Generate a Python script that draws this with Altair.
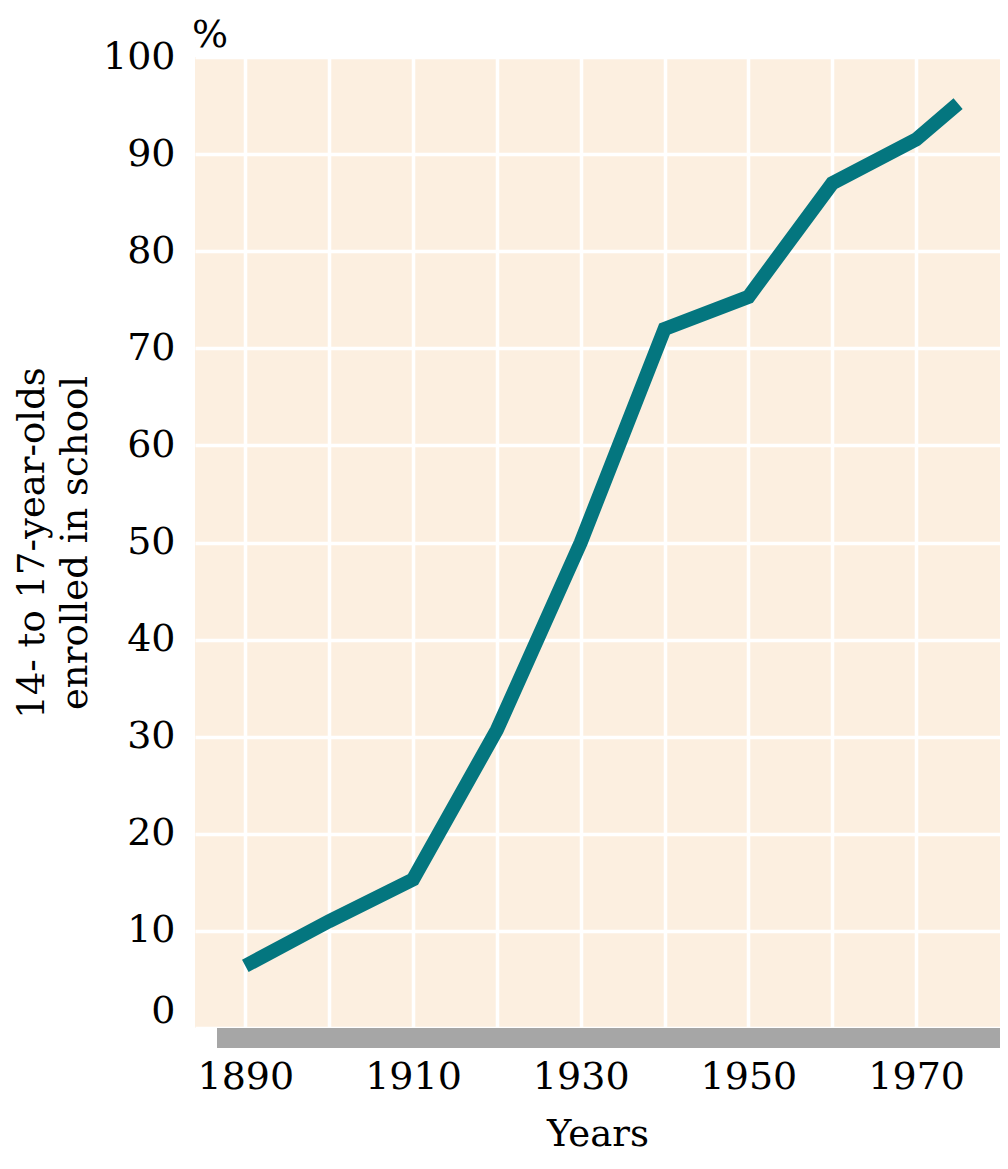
import altair as alt
import pandas as pd

years = [1890, 1900, 1910, 1920, 1930, 1940, 1950, 1960, 1970, 1975]
enrolled = [6.4, 11.0, 15.3, 30.7, 50.0, 72.0, 75.3, 87.0, 91.5, 95.2]
x_ticks = [1890, 1900, 1910, 1920, 1930, 1940, 1950, 1960, 1970]
y_ticks = [0, 10, 20, 30, 40, 50, 60, 70, 80, 90, 100]

df = pd.DataFrame({"year": years, "pct": enrolled})

W, H = 805, 971
FONT = "DejaVu Serif"
TEAL = "#04767F"
CREAM = "#FCEFE0"
GRAY = "#A6A6A6"

x_scale = alt.Scale(domain=[1884, 1980], nice=False, zero=False)
y_scale = alt.Scale(domain=[0, 100], nice=False)

x_axis = alt.Axis(
    values=x_ticks, format="d",
    labelExpr="datum.value % 20 == 10 ? datum.label : ''",
    title="Years", titleFont=FONT, titleFontSize=37, titleFontWeight="normal",
    titleColor="black", titlePadding=20,
    labelFont=FONT, labelFontSize=38, labelColor="black", labelPadding=30,
    ticks=False, domain=False,
    grid=True, gridColor="white", gridWidth=3.5, gridOpacity=1,
)
y_axis = alt.Axis(
    values=y_ticks,
    title=["14- to 17-year-olds", "enrolled in school"],
    titleFont=FONT, titleFontSize=37, titleFontWeight="normal", titleColor="black",
    titleAngle=-90, titleAlign="center", titleBaseline="alphabetic",
    titleX=-152, titleY=H / 2, titleLineHeight=43,
    labelFont=FONT, labelFontSize=38, labelColor="black", labelPadding=20,
    labelOffset=alt.condition("datum.value === 0", alt.value(-17), alt.value(0)),
    ticks=False, domain=False,
    grid=True, gridColor="white", gridWidth=3.5, gridOpacity=1,
)

line = alt.Chart(df).mark_line(
    color=TEAL, strokeWidth=14, strokeCap="butt", strokeJoin="miter"
).encode(
    x=alt.X("year:Q", scale=x_scale, axis=x_axis),
    y=alt.Y("pct:Q", scale=y_scale, axis=y_axis),
)

one = alt.Data(values=[{"a": 1}])
shadow_bottom = alt.Chart(one).mark_rect(color=GRAY).encode(
    x=alt.value(22), x2=alt.value(W + 22), y=alt.value(H), y2=alt.value(H + 20)
)
shadow_right = alt.Chart(one).mark_rect(color=GRAY).encode(
    x=alt.value(W), x2=alt.value(W + 22), y=alt.value(21), y2=alt.value(H + 20)
)
pct = alt.Chart(one).mark_text(
    text="%", font=FONT, fontSize=38, align="left", baseline="alphabetic", color="black"
).encode(x=alt.value(-3), y=alt.value(-10))

chart = alt.layer(shadow_bottom, shadow_right, line, pct).properties(
    width=W, height=H,
    autosize=alt.AutoSizeParams(type="none"),
    padding={"left": 187, "top": 49, "right": 0, "bottom": 126},
    background="white",
).configure_view(fill=CREAM, stroke=None)

chart.save("out.html", embed_options={"renderer": "svg", "actions": False})
